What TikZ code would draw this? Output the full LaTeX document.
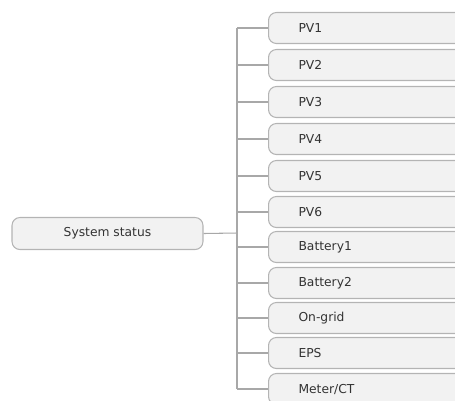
\documentclass[tikz,border=0pt]{standalone}
\usepackage{fontspec}
\setmainfont{DejaVu Sans}
\usepackage{xcolor}
\usetikzlibrary{positioning}
\definecolor{boxfill}{HTML}{F2F2F2}
\definecolor{boxline}{HTML}{B4B4B4}
\definecolor{linkgray}{HTML}{A8A8A8}
\definecolor{textgray}{HTML}{333333}

\begin{document}
\begin{tikzpicture}[
  x=0.02cm, y=-0.02cm,
  topic/.style={draw=boxline, fill=boxfill, rounded corners=4.5pt, line width=0.6pt,
    minimum height=0.62cm, text=textgray, font=\fontsize{7}{8}\selectfont},
  root/.style={topic, minimum width=3.82cm, minimum height=0.64cm, align=center},
  leaf/.style={topic, anchor=west, text width=3.2cm, align=left, inner xsep=0.6cm},
  link/.style={draw=linkgray, line width=0.6pt}
]
\useasboundingbox (0,0) rectangle (455,400);
\clip (0,0) rectangle (455,400);

\node[root] (status) at (107.5,233.5) {System status};

\node[leaf] (pv1) at (268,28) {PV1};
\node[leaf] (pv2) at (268,65) {PV2};
\node[leaf] (pv3) at (268,102) {PV3};
\node[leaf] (pv4) at (268,139) {PV4};
\node[leaf] (pv5) at (268,176) {PV5};
\node[leaf] (pv6) at (268,212) {PV6};
\node[leaf] (bat1) at (268,247) {Battery1};
\node[leaf] (bat2) at (268,283) {Battery2};
\node[leaf] (ongrid) at (268,318) {On-grid};
\node[leaf] (eps) at (268,353) {EPS};
\node[leaf] (meter) at (268,389) {Meter/CT};

\coordinate (trunk) at (237,233);
\draw[link] (status.east) -- (trunk);
\draw[link] (trunk |- pv1) -- (trunk |- meter);
\draw[link] (trunk |- pv1) -- (pv1.west);
\draw[link] (trunk |- pv2) -- (pv2.west);
\draw[link] (trunk |- pv3) -- (pv3.west);
\draw[link] (trunk |- pv4) -- (pv4.west);
\draw[link] (trunk |- pv5) -- (pv5.west);
\draw[link] (trunk |- pv6) -- (pv6.west);
\draw[link] (trunk |- bat1) -- (bat1.west);
\draw[link] (trunk |- bat2) -- (bat2.west);
\draw[link] (trunk |- ongrid) -- (ongrid.west);
\draw[link] (trunk |- eps) -- (eps.west);
\draw[link] (trunk |- meter) -- (meter.west);
\end{tikzpicture}
\end{document}
